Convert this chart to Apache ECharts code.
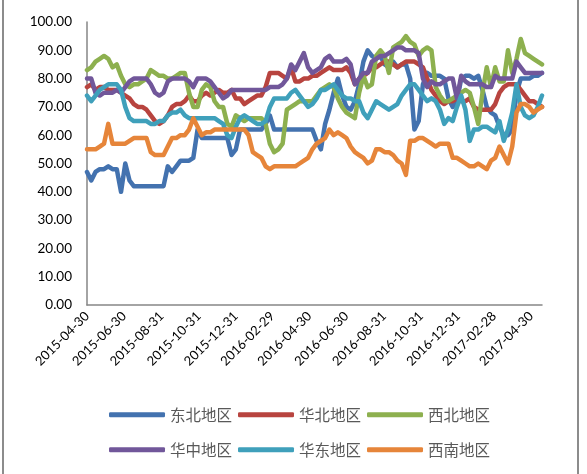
<!DOCTYPE html>
<html>
<head>
<meta charset="utf-8">
<script src="https://cdn.jsdelivr.net/npm/echarts@6/dist/echarts.min.js"></script>
<style>
    html, body { margin: 0; padding: 0; background: #fff; }
    #chart { width: 587px; height: 474px; }
</style>
</head>
<body>
<div id="chart"></div>
<script>
// 周度数据, 起始日期 2015-04-30
var startDate = '2015-04-30';
var weekCount = 108;

var tickDates = ['2015-04-30', '2015-06-30', '2015-08-31', '2015-10-31', '2015-12-31', '2016-02-29',
    '2016-04-30', '2016-06-30', '2016-08-31', '2016-10-31', '2016-12-31', '2017-02-28', '2017-04-30'];

var yTicks = [0, 10, 20, 30, 40, 50, 60, 70, 80, 90, 100];

var names = ['东北地区', '华北地区', '西北地区', '华中地区', '华东地区', '西南地区'];

var dongbei = [
    47, 44, 47, 48, 48, 49, 48, 48, 40, 50,
    44, 42, 42, 42, 42, 42, 42, 42, 42, 49,
    47, 49, 51, 51, 51, 52, 62, 59, 59, 59,
    59, 59, 59, 59, 53, 55, 62, 62, 62, 62,
    62, 62, 64, 67, 62, 62, 62, 62, 62, 62,
    62, 62, 62, 62, 58, 55, 64, 69, 75, 80,
    74, 70, 69, 72, 78, 86, 90, 88, 87, 88,
    85, 84, 86, 84, 85, 85, 80, 62, 65, 78,
    82, 81, 81, 81, 80, 73, 70, 72, 80, 81,
    81, 80, 81, 76, 70, 68, 67, 63, 60, 60,
    62, 75, 80, 80, 80, 81, 81, 82
];
var huabei = [
    77, 78, 76, 77, 77, 76, 76, 76, 75, 74,
    73, 71, 70, 70, 69, 67, 65, 64, 65, 67,
    70, 71, 71, 72, 74, 72, 72, 74, 75, 74,
    75, 76, 75, 75, 76, 73, 73, 71, 72, 73,
    74, 74, 77, 82, 82, 82, 81, 80, 84, 79,
    79, 80, 80, 81, 81, 82, 83, 84, 83, 83,
    83, 84, 82, 78, 80, 81, 82, 84, 84, 85,
    86, 86, 85, 84, 85, 86, 86, 86, 85, 84,
    80, 76, 74, 72, 71, 72, 72, 73, 72, 72,
    73, 70, 69, 69, 69, 69, 71, 75, 77, 78,
    78, 78, 76, 74, 72, 72, 71, 70
];
var xibei = [
    83, 84, 86, 87, 88, 87, 84, 85, 81, 78,
    77, 78, 78, 79, 80, 83, 82, 81, 81, 80,
    80, 81, 82, 82, 75, 70, 70, 76, 78, 77,
    72, 70, 70, 64, 63, 67, 66, 65, 66, 66,
    66, 66, 64, 57, 54, 55, 57, 69, 70, 71,
    72, 72, 72, 72, 74, 76, 77, 78, 77, 73,
    70, 68, 67, 66, 75, 81, 77, 78, 88, 90,
    88, 82, 91, 92, 93, 95, 93, 92, 88, 90,
    91, 90, 77, 74, 72, 72, 73, 74, 75, 76,
    75, 70, 64, 75, 84, 77, 84, 79, 79, 90,
    82, 87, 94, 89, 88, 87, 86, 85
];
var huazhong = [
    80, 80, 75, 74, 75, 75, 75, 76, 75, 77,
    79, 80, 80, 80, 80, 78, 75, 74, 75, 79,
    80, 80, 80, 80, 79, 77, 80, 80, 80, 79,
    77, 75, 73, 74, 76, 76, 76, 76, 76, 76,
    76, 76, 76, 77, 77, 77, 78, 80, 85, 83,
    86, 89, 84, 82, 83, 84, 87, 88, 86, 86,
    86, 87, 85, 78, 80, 82, 82, 86, 87, 88,
    88, 89, 90, 91, 91, 90, 90, 90, 89, 80,
    77, 79, 78, 78, 79, 80, 80, 73, 81, 79,
    78, 78, 78, 78, 77, 77, 81, 80, 80, 80,
    80, 86, 84, 82, 82, 82, 82, 82
];
var huadong = [
    74, 72, 74, 76, 77, 78, 78, 78, 76, 70,
    66, 65, 65, 65, 65, 64, 64, 65, 65, 67,
    68, 68, 69, 67, 66, 66, 66, 66, 66, 66,
    66, 65, 64, 60, 59, 63, 66, 67, 66, 65,
    64, 64, 65, 70, 73, 73, 73, 73, 75, 76,
    74, 72, 70, 71, 73, 76, 76, 77, 78, 76,
    74, 73, 73, 72, 72, 68, 66, 69, 72, 71,
    70, 69, 70, 71, 74, 76, 78, 78, 76, 74,
    72, 73, 72, 69, 64, 66, 65, 70, 74, 69,
    58, 62, 62, 63, 63, 62, 61, 65, 58, 62,
    68, 78, 70, 67, 66, 67, 70, 74
];
var xinan = [
    55, 55, 55, 56, 57, 64, 57, 57, 57, 57,
    58, 59, 59, 59, 59, 54, 53, 53, 53, 56,
    59, 59, 60, 60, 62, 66, 63, 60, 61, 61,
    62, 62, 62, 62, 62, 62, 62, 62, 60, 54,
    53, 52, 49, 48, 49, 49, 49, 49, 49, 49,
    50, 51, 52, 55, 57, 58, 59, 62, 60, 61,
    60, 59, 56, 54, 53, 52, 50, 51, 55, 55,
    54, 54, 53, 51, 50, 46, 58, 58, 59, 59,
    58, 57, 56, 57, 57, 57, 52, 52, 51, 50,
    49, 49, 50, 49, 48, 51, 52, 56, 53, 50,
    56, 68, 71, 71, 70, 68, 69, 70
];

var colors = ['#4372AF', '#B8443F', '#8DB04F', '#71579A', '#3FA0BB', '#E6853A'];

var DAY = 24 * 3600 * 1000;

// 日期字符串 -> 距起始日的天数
var toDay = function(s) {
    var p = s.split('-');
    var t = Date.UTC(+p[0], +p[1] - 1, +p[2]);
    var p0 = startDate.split('-');
    var t0 = Date.UTC(+p0[0], +p0[1] - 1, +p0[2]);
    return Math.round((t - t0) / DAY);
};
// 天数 -> 日期字符串
var toDate = function(day) {
    var p0 = startDate.split('-');
    var d = new Date(Date.UTC(+p0[0], +p0[1] - 1, +p0[2]) + day * DAY);
    var mm = ('0' + (d.getUTCMonth() + 1)).slice(-2);
    var dd = ('0' + d.getUTCDate()).slice(-2);
    return d.getUTCFullYear() + '-' + mm + '-' + dd;
};

var lineChart = function() {
    var days = [];
    for (var i = 0; i < weekCount; i++) {
        days.push(i * 7);
    }
    var tickDays = tickDates.map(toDay);

    var values = [dongbei, huabei, xibei, huazhong, huadong, xinan];
    var series = names.map(function(name, k) {
        return {
            name: name,
            type: 'line',
            showSymbol: false,
            symbol: 'none',
            data: values[k].map(function(v, i) { return [days[i], v]; }),
            lineStyle: { width: 4.5, cap: 'round', join: 'round' }
        };
    });

    var legendBase = {
        icon: 'roundRect',
        itemWidth: 56,
        itemHeight: 5,
        itemGap: 6,
        textStyle: { fontFamily: 'Noto Sans CJK SC', fontSize: 15.5, color: '#595959' }
    };

    var myChart = echarts.init(document.getElementById('chart'));
    var option = {
        animation: false,
        color: colors,
        grid: { left: 87, right: 45, top: 22, bottom: 169 },
        legend: [
            Object.assign({ left: 104, top: 402, data: names.slice(0, 3) }, legendBase),
            Object.assign({ left: 104, top: 437, data: names.slice(3) }, legendBase)
        ],
        xAxis: {
            type: 'value',
            min: 0,
            max: days[days.length - 1],
            splitLine: { show: false },
            axisTick: { show: false },
            axisLine: { lineStyle: { color: '#868686', width: 1.5 } },
            axisLabel: {
                customValues: tickDays,
                rotate: 45,
                margin: 9,
                fontFamily: 'Lato',
                fontSize: 13,
                color: '#000',
                formatter: function(val) { return toDate(val); }
            }
        },
        yAxis: {
            type: 'value',
            min: yTicks[0],
            max: yTicks[yTicks.length - 1],
            interval: 10,
            splitLine: { show: false },
            axisTick: { show: false },
            axisLine: { show: true, lineStyle: { color: '#868686', width: 1.5 } },
            axisLabel: {
                margin: 15,
                fontFamily: 'Lato',
                fontSize: 13.5,
                color: '#000',
                formatter: function(v) { return v.toFixed(2); }
            }
        },
        graphic: [
            { type: 'line', shape: { x1: 3, y1: 0, x2: 3, y2: 474 }, style: { stroke: '#8c8c8c', lineWidth: 2 } },
            { type: 'line', shape: { x1: 578, y1: 0, x2: 578, y2: 474 }, style: { stroke: '#8c8c8c', lineWidth: 2 } }
        ],
        series: series
    };
    myChart.setOption(option);
};

lineChart();
</script>
</body>
</html>
